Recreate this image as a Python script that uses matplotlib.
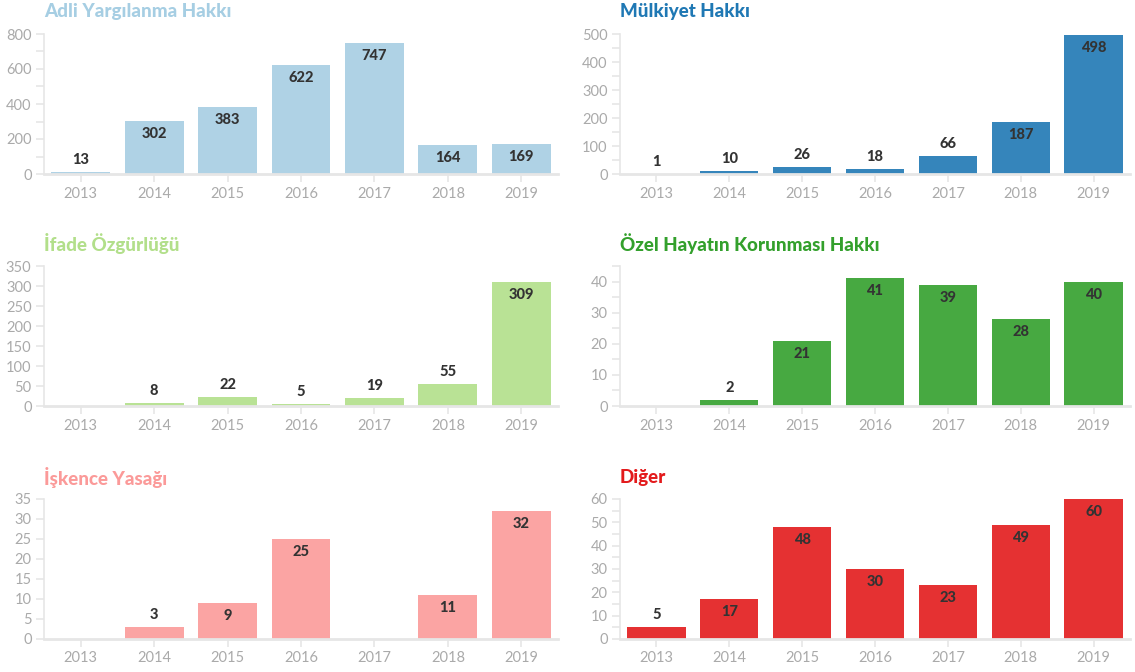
import matplotlib.pyplot as plt
from matplotlib.ticker import MultipleLocator

plt.rcParams['font.family'] = ['Lato', 'DejaVu Sans']

years = ['2013', '2014', '2015', '2016', '2017', '2018', '2019']

titles = ['Adli Yargılanma Hakkı', 'Mülkiyet Hakkı',
          'İfade Özgürlüğü', 'Özel Hayatın Korunması Hakkı',
          'İşkence Yasağı', 'Diğer']

adli = [13, 302, 383, 622, 747, 164, 169]
mulkiyet = [1, 10, 26, 18, 66, 187, 498]
ifade = [0, 8, 22, 5, 19, 55, 309]
ozel = [0, 2, 21, 41, 39, 28, 40]
iskence = [0, 3, 9, 25, 0, 11, 32]
diger = [5, 17, 48, 30, 23, 49, 60]

series = [adli, mulkiyet, ifade, ozel, iskence, diger]
colors = ['#a6cee3', '#1f78b4', '#b2df8a', '#33a02c', '#fb9a99', '#e31a1c']
ymax = [800, 500, 350, 45, 35, 60]
major = [200, 100, 50, 10, 5, 10]
minor = [100, 50, None, 5, None, 5]

fig = plt.figure(figsize=(11.35, 6.72), dpi=100)

W, H = 1135, 672
lefts = [44, 620]
widths = [514, 510]
tops = [34, 266, 499]
ah = 140

grid_col = '#e6e6e6'
tick_col = '#aaaaaa'

for i, vals in enumerate(series):
    r, c = divmod(i, 2)
    ax = fig.add_axes([lefts[c] / W, (H - tops[r] - ah) / H,
                       widths[c] / W, ah / H])
    x = range(len(years))
    ax.bar(x, vals, width=0.8, color=colors[i], alpha=0.9)
    ax.set_xlim(-0.5, 6.5)
    ax.set_ylim(0, ymax[i])
    ax.set_xticks(list(x))
    ax.set_xticklabels(years)
    ax.yaxis.set_major_locator(MultipleLocator(major[i]))
    if minor[i]:
        ax.yaxis.set_minor_locator(MultipleLocator(minor[i]))
    for s in ['top', 'right']:
        ax.spines[s].set_visible(False)
    ax.spines['left'].set_color(grid_col)
    ax.spines['left'].set_linewidth(1.2)
    ax.spines['bottom'].set_color(grid_col)
    ax.spines['bottom'].set_linewidth(2)
    ax.tick_params(axis='both', which='both', color=grid_col, length=6,
                   width=1.2, labelcolor=tick_col, labelsize=10.5)
    ax.tick_params(axis='x', pad=3)
    ax.tick_params(axis='y', pad=3)

    # labels go inside the bar when it is tall enough
    for xi, v in zip(x, vals):
        if v == 0:
            continue
        hpx = v / ymax[i] * ah
        off = -13 if hpx > 25 else 12
        ax.annotate(str(v), (xi, v), xytext=(0, off),
                    textcoords='offset pixels', ha='center', va='center',
                    fontsize=10.5, fontweight='black', color='#333333')

    ax.text(0, 1 + 22 / ah, titles[i], transform=ax.transAxes,
            ha='left', va='center', fontsize=13.5, fontweight='black',
            color=colors[i])

fig.savefig('out.png', dpi=100)
